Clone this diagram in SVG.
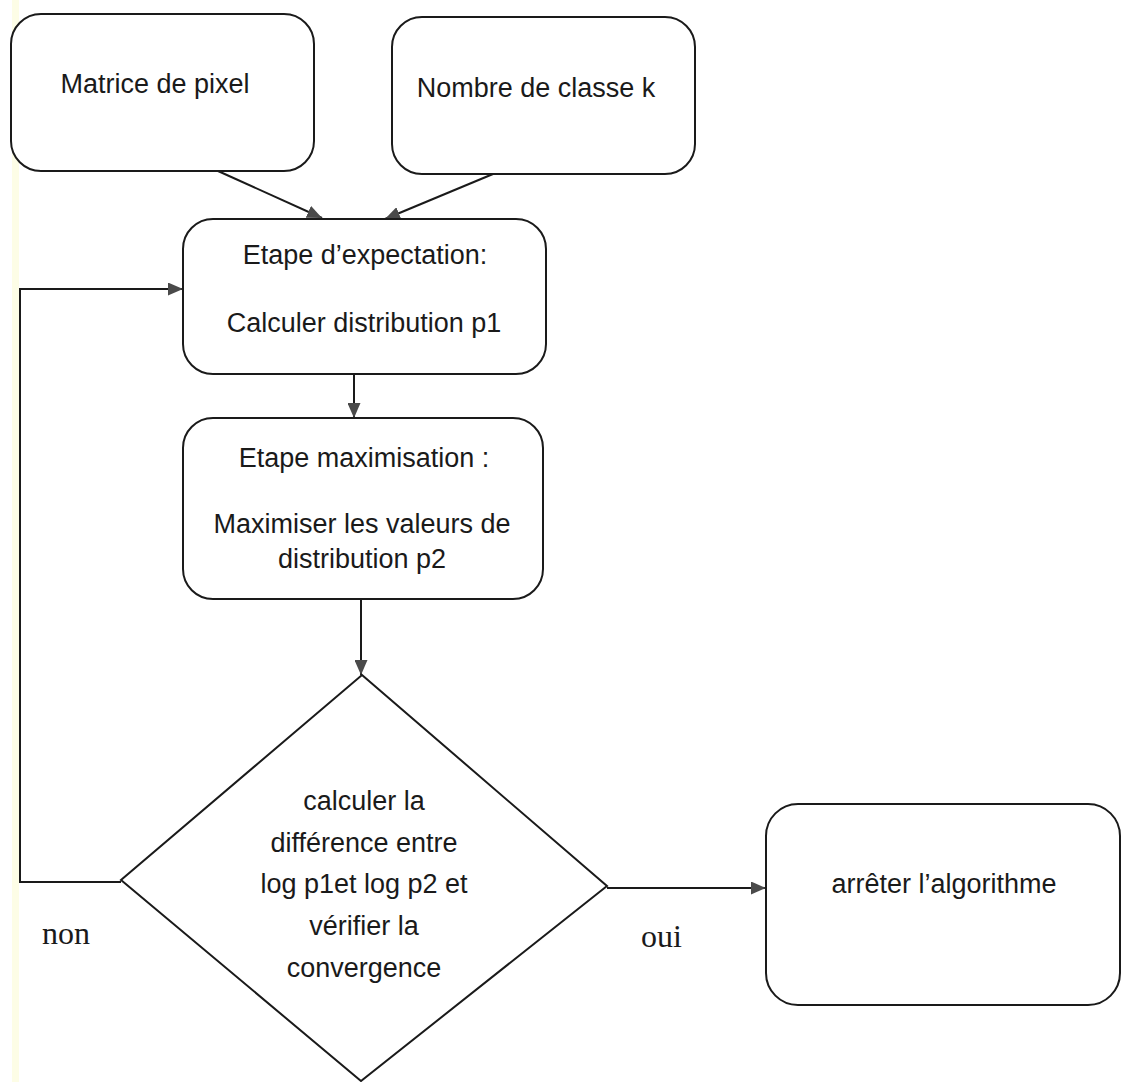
<svg xmlns="http://www.w3.org/2000/svg" width="1121" height="1082" viewBox="0 0 1121 1082">
  <style>
    .box { fill: #ffffff; stroke: #1a1a1a; stroke-width: 2; }
    .conn { fill: none; stroke: #1a1a1a; stroke-width: 2; }
    .t { font-family: "Liberation Sans", Arial, sans-serif; font-size: 27px; fill: #1a1a1a; text-anchor: middle; }
    .lbl { font-family: "Liberation Serif", "Times New Roman", serif; font-size: 32px; fill: #1a1a1a; }
  </style>
  <defs>
    <marker id="arrow" markerUnits="userSpaceOnUse" markerWidth="15" markerHeight="13" refX="15" refY="6.5" orient="auto">
      <path d="M0,0 L15,6.5 L0,13 Z" fill="#4a4a4a"/>
    </marker>
  </defs>
  <rect x="0" y="0" width="1121" height="1082" fill="#ffffff"/>
  <rect x="12" y="0" width="7" height="1082" fill="#fdfde6"/>

  <g id="connectors">
    <line class="conn" x1="218" y1="171" x2="322" y2="218" marker-end="url(#arrow)"/>
    <line class="conn" x1="493" y1="174" x2="385" y2="219" marker-end="url(#arrow)"/>
    <line class="conn" x1="354" y1="374" x2="354" y2="418" marker-end="url(#arrow)"/>
    <line class="conn" x1="361" y1="598" x2="361" y2="675" marker-end="url(#arrow)"/>
    <polyline class="conn" points="121,882 20,882 20,289 183,289" marker-end="url(#arrow)"/>
    <line class="conn" x1="607" y1="888" x2="766" y2="888" marker-end="url(#arrow)"/>
  </g>

  <g id="node-matrice">
    <rect class="box" x="11" y="14" width="303" height="157" rx="30" ry="30"/>
    <text class="t" x="155" y="93">Matrice de pixel</text>
  </g>

  <g id="node-nombre">
    <rect class="box" x="392" y="17" width="303" height="157" rx="30" ry="30"/>
    <text class="t" x="536" y="97">Nombre de classe k</text>
  </g>

  <g id="node-expectation">
    <rect class="box" x="183" y="219" width="363" height="155" rx="30" ry="30"/>
    <text class="t" x="365" y="264">Etape d’expectation:</text>
    <text class="t" x="364" y="332">Calculer distribution p1</text>
  </g>

  <g id="node-maximisation">
    <rect class="box" x="183" y="418" width="360" height="181" rx="30" ry="30"/>
    <text class="t" x="364" y="467">Etape maximisation :</text>
    <text class="t" x="362" y="533">Maximiser les valeurs de</text>
    <text class="t" x="362" y="568">distribution p2</text>
  </g>

  <g id="node-convergence">
    <polygon class="box" points="362,675 607,886 361,1081 121,880"/>
    <text class="t" x="364" y="810">calculer la</text>
    <text class="t" x="364" y="852">différence entre</text>
    <text class="t" x="364" y="893">log p1et log p2 et</text>
    <text class="t" x="364" y="935">vérifier la</text>
    <text class="t" x="364" y="977">convergence</text>
  </g>

  <g id="node-arreter">
    <rect class="box" x="766" y="804" width="354" height="201" rx="32" ry="32"/>
    <text class="t" x="944" y="893">arrêter l’algorithme</text>
  </g>

  <g id="labels">
    <text class="lbl" x="42" y="944">non</text>
    <text class="lbl" x="641" y="947">oui</text>
  </g>
</svg>
